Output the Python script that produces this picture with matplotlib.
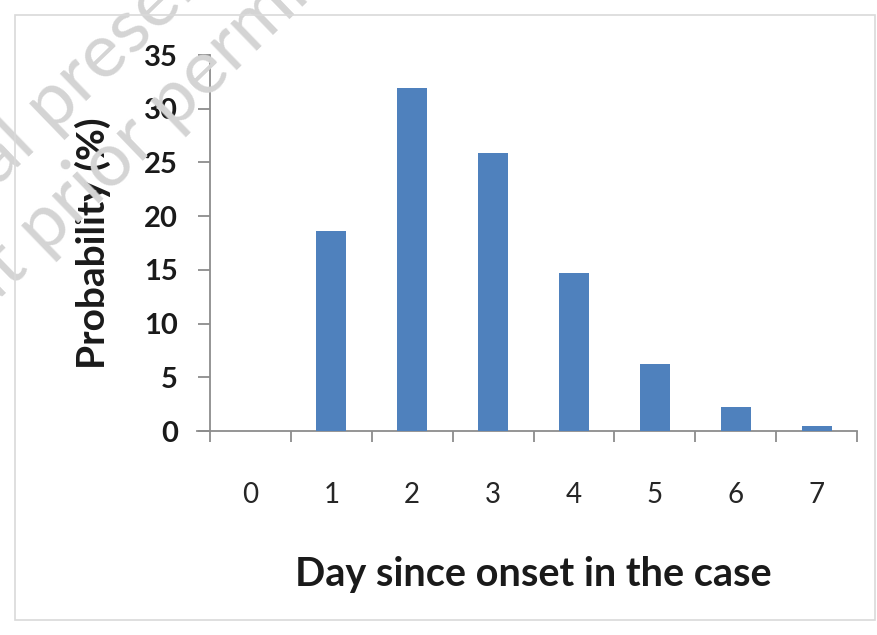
import matplotlib
matplotlib.use("Agg")
import matplotlib.pyplot as plt
from matplotlib.patches import Rectangle

days = [0, 1, 2, 3, 4, 5, 6, 7]
day_labels = ["0", "1", "2", "3", "4", "5", "6", "7"]
probability = [0.0, 18.6, 31.9, 25.9, 14.7, 6.2, 2.2, 0.5]
y_ticks = [0, 5, 10, 15, 20, 25, 30, 35]

fig = plt.figure(figsize=(8.77, 6.35), dpi=100)
fig.patch.set_facecolor("white")

# faint watermark (behind everything)
fig.text(-2/877, 1 - 187/635, "al presentation", rotation=44,
         rotation_mode="anchor", ha="left", va="baseline", fontsize=55,
         color="#d4d4d4", fontfamily="Lato", zorder=0)
fig.text(-158/877, 1 - 452/635, "without prior permission", rotation=44,
         rotation_mode="anchor", ha="left", va="baseline", fontsize=55,
         color="#d4d4d4", fontfamily="Lato", zorder=0)

# chart-area border
fig.patches.append(Rectangle((15/877, 1 - 620/635), 860/877, 605/635,
                             transform=fig.transFigure, fill=False,
                             edgecolor="#d9d9d9", linewidth=1.2, zorder=1))

ax = fig.add_axes([210/877, 1 - 431/635, 647/877, 376/635])
ax.patch.set_alpha(0)
ax.bar(days, probability, width=0.37, color="#4f81bd", zorder=3)

ax.set_xlim(-0.5, 7.5)
ax.set_ylim(0, 35)
for s in ["top", "right"]:
    ax.spines[s].set_visible(False)
ax.spines["left"].set_color("#8c8c8c")
ax.spines["bottom"].set_color("#8c8c8c")
ax.spines["left"].set_linewidth(1.3)
ax.spines["bottom"].set_linewidth(1.3)
ax.spines["bottom"].set_bounds(-0.66, 7.5)

ax.set_yticks(y_ticks)
ax.set_yticklabels([str(v) for v in y_ticks], fontfamily="Lato",
                   fontweight="bold", fontsize=21, color="#1a1a1a")
ax.tick_params(axis="y", length=9, width=1.3, color="#8c8c8c", pad=14)

ax.set_xticks(days)
ax.set_xticklabels(day_labels, fontfamily="Lato", fontsize=20, color="#262626")
ax.tick_params(axis="x", which="major", length=0, pad=37)
ax.set_xticks([d - 0.5 for d in days] + [7.5], minor=True)
ax.tick_params(axis="x", which="minor", length=8, width=1.3,
               color="#8c8c8c", direction="out")

ax.set_xlabel("Day since onset in the case", fontfamily="Lato",
              fontweight="bold", fontsize=28.5, color="#1a1a1a", labelpad=34)
ax.set_ylabel("Probability (%)", fontfamily="Lato", fontweight="bold",
              fontsize=28, color="#1a1a1a", labelpad=24)

fig.savefig("out.png", dpi=100)
